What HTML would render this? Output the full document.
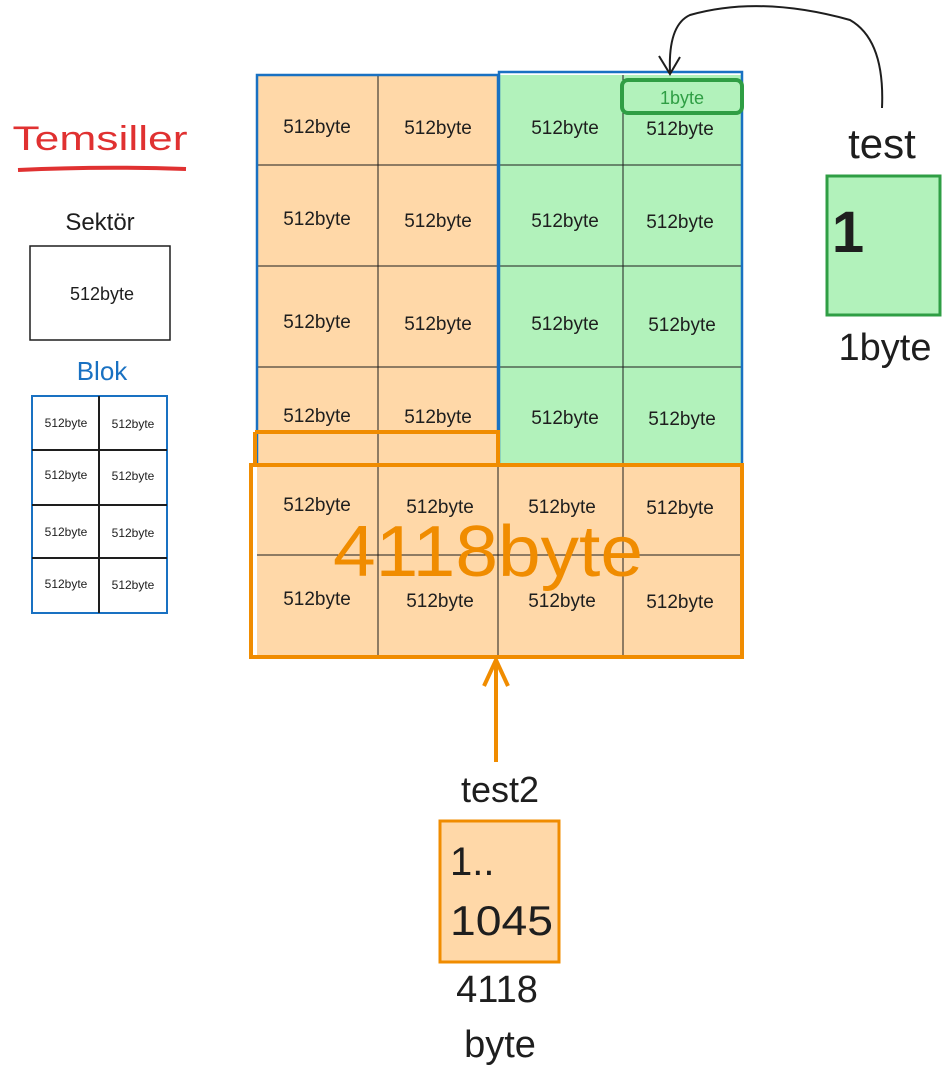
<!DOCTYPE html>
<html><head><meta charset="utf-8">
<style>
html,body{margin:0;padding:0;background:#fff;}
svg{display:block;font-family:"Liberation Sans",sans-serif;}
</style></head>
<body>
<svg width="949" height="1082" viewBox="0 0 949 1082">
  <g>
    <text x="100" y="150" font-size="34" fill="#e03131" text-anchor="middle" textLength="175" lengthAdjust="spacingAndGlyphs">Temsiller</text>
    <path d="M18 170 Q100 166 186 169" stroke="#e03131" stroke-width="4" fill="none"/>
    <text x="100" y="230" font-size="24" fill="#1e1e1e" text-anchor="middle">Sektör</text>
    <rect x="30" y="246" width="140" height="94" fill="#fff" stroke="#1e1e1e" stroke-width="1.5"/>
    <text x="102" y="300" font-size="18" fill="#1e1e1e" text-anchor="middle">512byte</text>
    <text x="102" y="380" font-size="26" fill="#1971c2" text-anchor="middle">Blok</text>
    <rect x="32" y="396" width="135" height="217" fill="#fff" stroke="#1971c2" stroke-width="2"/>
    <g stroke="#1e1e1e" stroke-width="2">
      <line x1="99" y1="396" x2="99" y2="613"/>
      <line x1="32" y1="450" x2="167" y2="450"/>
      <line x1="32" y1="505" x2="167" y2="505"/>
      <line x1="32" y1="558" x2="167" y2="558"/>
    </g>
    <g font-size="12" fill="#1e1e1e" text-anchor="middle">
      <text x="66" y="427">512byte</text><text x="133" y="428">512byte</text>
      <text x="66" y="479">512byte</text><text x="133" y="480">512byte</text>
      <text x="66" y="536">512byte</text><text x="133" y="537">512byte</text>
      <text x="66" y="588">512byte</text><text x="133" y="589">512byte</text>
    </g>
  </g>

  <g>
    <rect x="257" y="75" width="241" height="390" fill="#ffd8a8"/>
    <rect x="498" y="75" width="243" height="390" fill="#b2f2bb"/>
    <rect x="257" y="465" width="484" height="190" fill="#ffd8a8"/>
    <g stroke="#1e1e1e" stroke-width="1">
      <line x1="378" y1="75" x2="378" y2="655"/>
      <line x1="498" y1="75" x2="498" y2="655"/>
      <line x1="623" y1="75" x2="623" y2="655"/>
      <line x1="257" y1="165" x2="741" y2="165"/>
      <line x1="257" y1="266" x2="741" y2="266"/>
      <line x1="257" y1="367" x2="741" y2="367"/>
      <line x1="257" y1="465" x2="741" y2="465"/>
      <line x1="257" y1="555" x2="741" y2="555"/>
    </g>
    <rect x="257" y="75" width="241" height="390" fill="none" stroke="#1971c2" stroke-width="2.5"/>
    <rect x="499" y="72" width="243" height="393" fill="none" stroke="#1971c2" stroke-width="2.5"/>
    <path d="M255 432 L498 432 L498 465 M255 432 L255 465" stroke="#f08c00" stroke-width="4" fill="none"/>
    <rect x="251" y="465" width="491" height="192" fill="none" stroke="#f08c00" stroke-width="4"/>
    <rect x="622" y="80" width="120" height="33" rx="6" fill="#b2f2bb" stroke="#2f9e44" stroke-width="4"/>
    <text x="682" y="104" font-size="18" fill="#2f9e44" text-anchor="middle">1byte</text>
    <g font-size="19" fill="#1e1e1e" text-anchor="middle">
      <text x="317" y="133">512byte</text><text x="438" y="134">512byte</text><text x="565" y="134">512byte</text><text x="680" y="135">512byte</text>
      <text x="317" y="225">512byte</text><text x="438" y="227">512byte</text><text x="565" y="227">512byte</text><text x="680" y="228">512byte</text>
      <text x="317" y="328">512byte</text><text x="438" y="330">512byte</text><text x="565" y="330">512byte</text><text x="682" y="331">512byte</text>
      <text x="317" y="422">512byte</text><text x="438" y="423">512byte</text><text x="565" y="424">512byte</text><text x="682" y="425">512byte</text>
      <text x="317" y="511">512byte</text><text x="440" y="513">512byte</text><text x="562" y="513">512byte</text><text x="680" y="514">512byte</text>
      <text x="317" y="605">512byte</text><text x="440" y="607">512byte</text><text x="562" y="607">512byte</text><text x="680" y="608">512byte</text>
    </g>
    <text x="488" y="576" font-size="72" fill="#f08c00" text-anchor="middle" textLength="310" lengthAdjust="spacingAndGlyphs">4118byte</text>
  </g>

  <g>
    <path d="M882 108 Q885 40 850 20 Q760 -5 690 15 Q668 25 670 72" stroke="#1e1e1e" stroke-width="2" fill="none"/>
    <path d="M659 56 L670 74 L680 57" stroke="#1e1e1e" stroke-width="2" fill="none"/>
    <text x="882" y="158" font-size="42" fill="#1e1e1e" text-anchor="middle">test</text>
    <rect x="827" y="176" width="113" height="139" fill="#b2f2bb" stroke="#2f9e44" stroke-width="3"/>
    <text x="848" y="252" font-size="58" font-weight="bold" fill="#1e1e1e" text-anchor="middle">1</text>
    <text x="885" y="360" font-size="38" fill="#1e1e1e" text-anchor="middle">1byte</text>
  </g>

  <g>
    <line x1="496" y1="762" x2="496" y2="662" stroke="#f08c00" stroke-width="4"/>
    <path d="M484 686 L496 660 L508 686" stroke="#f08c00" stroke-width="4" fill="none"/>
    <text x="500" y="802" font-size="36" fill="#1e1e1e" text-anchor="middle">test2</text>
    <rect x="440" y="821" width="119" height="141" fill="#ffd8a8" stroke="#f08c00" stroke-width="3"/>
    <text x="450" y="875" font-size="40" fill="#1e1e1e">1..</text>
    <text x="450" y="935" font-size="42" fill="#1e1e1e" textLength="103" lengthAdjust="spacingAndGlyphs">1045</text>
    <text x="497" y="1002" font-size="38" fill="#1e1e1e" text-anchor="middle">4118</text>
    <text x="500" y="1057" font-size="38" fill="#1e1e1e" text-anchor="middle">byte</text>
  </g>
</svg>
</body></html>
